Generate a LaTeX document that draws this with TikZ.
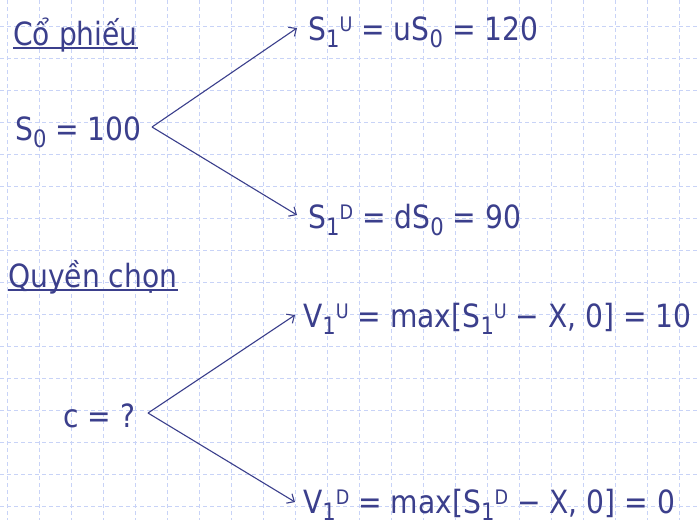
\documentclass[tikz,border=0pt]{standalone}
\usepackage{fontspec}
\setmainfont{DejaVu Sans}[FakeStretch=0.88]
\usetikzlibrary{arrows.meta,calc}
\definecolor{txt}{HTML}{3B3F8C}
\definecolor{gridc}{HTML}{C8D3F7}
\newcommand\sbs[1]{\raisebox{-0.22em}{\fontsize{24}{24}\selectfont #1}}
\newcommand\sps[1]{\raisebox{0.26em}{\fontsize{20}{20}\selectfont #1}}
\tikzset{
  lbl/.style={anchor=base west,inner sep=0pt,text=txt,font=\fontsize{32}{38}\selectfont},
  gridline/.style={draw=gridc,line width=0.8pt,dash pattern=on 4pt off 3pt},
  branch/.style={draw=txt,line width=1.1pt,-{Straight Barb[length=6pt,width=11pt,line width=1.1pt]}},
  uline/.style={draw=txt,line width=1.4pt}
}
\begin{document}
\begin{tikzpicture}[x=1pt,y=-1pt]
\useasboundingbox (0,0) rectangle (700,520);
\fill[white] (0,0) rectangle (700,520);
\foreach \i in {0,...,21} \draw[gridline] (7+32*\i,0) -- (7+32*\i,520);
\foreach \j in {0,...,15} \draw[gridline] (0,26+32*\j) -- (700,26+32*\j);

\node[lbl] (cp) at (13,45) {Cổ phiếu};
\node[lbl] (s0) at (15,140) {S\sbs{0} = 100};
\node[lbl] (su) at (308,40) {S\sbs{1}\sps{U} = uS\sbs{0} = 120};
\node[lbl] (sd) at (308,228) {S\sbs{1}\sps{D} = dS\sbs{0} = 90};
\node[lbl] (qc) at (8,287) {Quyền chọn};
\node[lbl] (c) at (63,427) {c = ?};
\node[lbl] (vu) at (303,327) {V\sbs{1}\sps{U} = max[S\sbs{1}\sps{U} − X, 0] = 10};
\node[lbl] (vd) at (303,513) {V\sbs{1}\sps{D} = max[S\sbs{1}\sps{D} − X, 0] = 0};

\draw[uline] ($(cp.base west)+(0,3)$) -- ($(cp.base east)+(0,3)$);
\draw[uline] ($(qc.base west)+(0,3)$) -- ($(qc.base east)+(0,3)$);

\coordinate (a) at ($(s0.base west)+(137,-13)$);
\coordinate (au) at ($(su.base west)+(-11,-12)$);
\coordinate (ad) at ($(sd.base west)+(-11,-13)$);
\draw[branch] (a) -- (au);
\draw[branch] (a) -- (ad);

\coordinate (b) at ($(c.base west)+(85,-14)$);
\coordinate (bu) at ($(vu.base west)+(-8,-12)$);
\coordinate (bd) at ($(vd.base west)+(-8,-11)$);
\draw[branch] (b) -- (bu);
\draw[branch] (b) -- (bd);
\end{tikzpicture}
\end{document}
